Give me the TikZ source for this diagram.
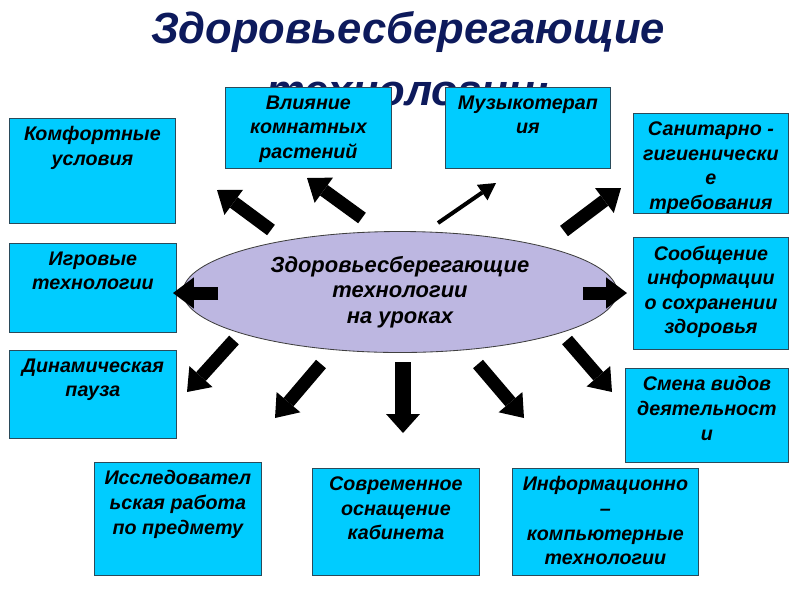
\documentclass[tikz,border=0pt]{standalone}
\usepackage{fontspec}
\setmainfont{Liberation Sans}
\usetikzlibrary{arrows.meta,shapes.geometric}
\definecolor{boxfill}{HTML}{00CCFF}
\definecolor{boxline}{HTML}{2A4A5A}
\definecolor{ellfill}{HTML}{BDB7E1}
\definecolor{ellline}{HTML}{404040}
\definecolor{titlecol}{HTML}{0D1A5C}
\tikzset{
    % cyan boxes, text sits at the top
    box/.style 2 args={draw=boxline, fill=boxfill, line width=0.6pt, anchor=north west,
        inner sep=0pt, minimum width=#1*0.025cm, minimum height=#2*0.025cm},
    boxtext/.style={anchor=north, align=center, inner sep=6pt,
        font=\bfseries\itshape\fontsize{14}{17.5}\selectfont},
    % black block arrows
    blockarrow/.style={line width=0.325cm, -{Triangle[width=0.78cm,length=0.52cm,line width=0pt]}},
    downarrow/.style={line width=0.42cm, -{Triangle[width=0.84cm,length=0.47cm,line width=0pt]}},
    thinarrow/.style={line width=0.1cm, -{Triangle[width=0.47cm,length=0.42cm,line width=0pt]}}
}
\begin{document}
\begin{tikzpicture}[x=0.025cm,y=-0.025cm]
    \useasboundingbox (0,0) rectangle (800,600);
    % title
    \node[anchor=north, align=center, inner sep=0pt, text=titlecol,
        font=\bfseries\itshape\fontsize{31}{44}\selectfont] (ttl) at (408,11)
        {Здоровьесберегающие\\технологии:};
    % boxes
    \node[box={166}{105}, label={[boxtext]north:Комфортные\\условия}] (kom) at (9,118) {};
    \node[box={166}{81}, label={[boxtext]north:Влияние\\комнатных\\растений}] (vli) at (225,87) {};
    \node[box={165}{81}, label={[boxtext]north:Музыкотерап\\ия}] (muz) at (445,87) {};
    \node[box={155}{100}, label={[boxtext]north:Санитарно -\\гигиенически\\е\\требования}] (san) at (633,113) {};
    \node[box={167}{89}, label={[boxtext]north:Игровые\\технологии}] (igr) at (9,243) {};
    \node[box={155}{112}, label={[boxtext]north:Сообщение\\информации\\о сохранении\\здоровья}] (soo) at (633,237) {};
    \node[box={167}{88}, label={[boxtext]north:Динамическая\\пауза}] (din) at (9,350) {};
    \node[box={163}{94}, label={[boxtext]north:Смена видов\\деятельност\\и}] (sme) at (625,368) {};
    \node[box={167}{113}, label={[boxtext]north:Исследовател\\ьская работа\\по предмету}] (iss) at (94,462) {};
    \node[box={167}{107}, label={[boxtext]north:Современное\\оснащение\\кабинета}] (sov) at (312,468) {};
    \node[box={186}{107}, label={[boxtext]north:Информационно\\–\\компьютерные\\технологии}] (inf) at (512,468) {};
    % centre
    \node[ellipse, draw=ellline, fill=ellfill, line width=0.6pt, inner sep=0pt,
        minimum width=434*0.025cm, minimum height=121*0.025cm, align=center,
        font=\bfseries\itshape\fontsize{15.6}{18.3}\selectfont] (ell) at (400,292)
        {Здоровьесберегающие\\технологии\\на уроках};
    % arrow ends
    \coordinate (kom-t) at (271,230); \coordinate (kom-h) at (217,190);
    \coordinate (vli-t) at (362,218); \coordinate (vli-h) at (307,178);
    \coordinate (muz-t) at (438,223); \coordinate (muz-h) at (496,183);
    \coordinate (san-t) at (564,231); \coordinate (san-h) at (621,188);
    \coordinate (igr-t) at (218,293); \coordinate (igr-h) at (173,293);
    \coordinate (soo-t) at (583,293); \coordinate (soo-h) at (627,293);
    \coordinate (din-t) at (234,340); \coordinate (din-h) at (187,392);
    \coordinate (iss-t) at (321,364); \coordinate (iss-h) at (275,418);
    \coordinate (sov-t) at (403,362); \coordinate (sov-h) at (403,433);
    \coordinate (inf-t) at (478,364); \coordinate (inf-h) at (524,418);
    \coordinate (sme-t) at (567,340); \coordinate (sme-h) at (612,392);
    \foreach \n in {kom,vli,san,igr,soo,din,iss,inf,sme}{
      \draw[blockarrow] (\n-t) -- (\n-h);
    }
    \draw[thinarrow] (muz-t) -- (muz-h);
    \draw[downarrow] (sov-t) -- (sov-h);
\end{tikzpicture}
\end{document}
